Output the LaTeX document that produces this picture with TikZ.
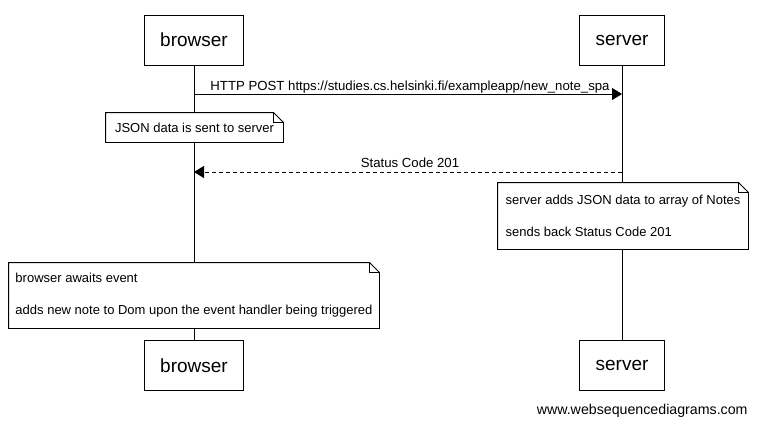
\documentclass[tikz,border=0pt]{standalone}
\usepackage{fontspec}
\setmainfont{Liberation Sans}
\usetikzlibrary{arrows.meta}

\newcommand{\notefold}[1]{%
  \draw (#1.north west) -- ([xshift=-10pt]#1.north east) -- ([yshift=-10pt]#1.north east)
        -- (#1.south east) -- (#1.south west) -- cycle;
  \draw ([xshift=-10pt]#1.north east) |- ([yshift=-10pt]#1.north east);
}

\begin{document}
\begin{tikzpicture}
        [x=1pt,y=-1pt,line width=0.9pt,%%%%%%%%%%%%%%%%%%%%%%%%%%%%%%
        actor/.style={rectangle,draw=black,fill=white,minimum height=50pt,inner xsep=16pt,font=\fontsize{19}{23}\selectfont},
        note/.style={rectangle,fill=white,inner sep=0pt,align=left,font=\fontsize{13}{16}\selectfont},
        msg/.style={-{Triangle[length=10pt,width=12pt]}},
        lbl/.style={inner sep=0pt,anchor=base,font=\fontsize{13.2}{15}\selectfont},
        ]%%%%%%%%%%%%%%%%%%%%%%%%%%%%%%
        \useasboundingbox (0,0) rectangle (757,424);

        \foreach \who/\x in {browser/194,server/622}{
          \node[actor] (\who top) at (\x,40) {\who};
          \node[actor] (\who bot) at (\x,365.5) {\who};
          \draw (\who top) -- (\who bot);
        }

        \coordinate (post b) at (194,94);
        \coordinate (post s) at (622,94);
        \draw[msg] (post b) -- node[lbl,yshift=4pt,xshift=2pt]
          {HTTP POST https://studies.cs.helsinki.fi/exampleapp/new\_note\_spa} (post s);

        \node[note,minimum width=177pt,minimum height=29pt] (sent) at (194.5,127.5) {JSON data is sent to server};
        \notefold{sent}

        \coordinate (status s) at (622,172);
        \coordinate (status b) at (194,172);
        \draw[msg,dash pattern=on 4pt off 3pt] (status s) -- node[lbl,yshift=5pt,xshift=2pt] {Status Code 201} (status b);

        \node[note,minimum width=250pt,minimum height=66pt] (adds) at (623,216)
          {server adds JSON data to array of Notes\\[16pt]sends back Status Code 201};
        \notefold{adds}

        \node[note,minimum width=370pt,minimum height=65pt] (awaits) at (194,295.5)
          {browser awaits event\\[16pt]adds new note to Dom upon the event handler being triggered};
        \notefold{awaits}

        \node[anchor=base east,inner sep=0pt,font=\fontsize{14.2}{17}\selectfont] (site) at (748,414) {www.websequencediagrams.com};

      \end{tikzpicture}
\end{document}
